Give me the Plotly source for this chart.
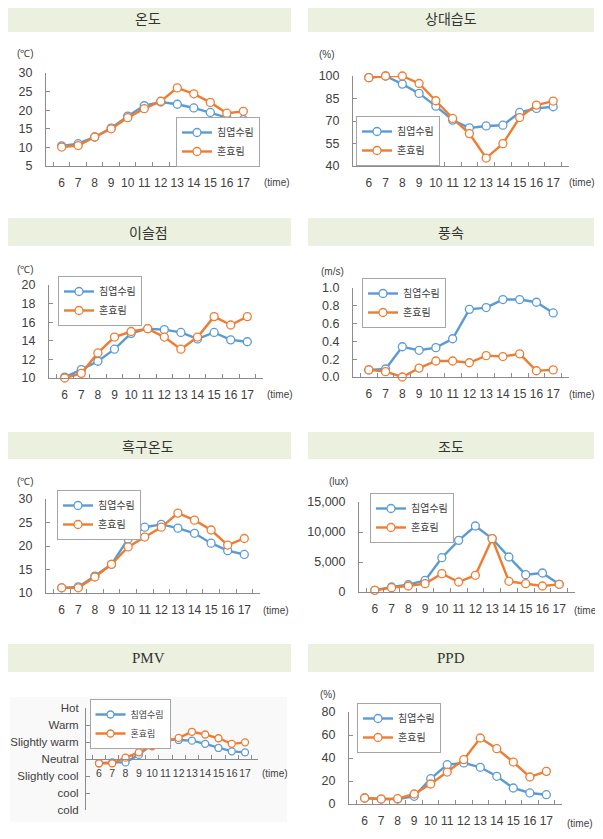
import plotly.graph_objects as go

# page body has an 8px default margin; the figure is placed at (8, 8)
OFF = 8
W, H = 603 - OFF, 839 - OFF

hours = ["6", "7", "8", "9", "10", "11", "12", "13", "14", "15", "16", "17"]
series_names = ["침엽수림", "혼효림"]
titles = ["온도", "상대습도", "이슬점", "풍속", "흑구온도", "조도", "PMV", "PPD"]
units = ["(℃)", "(%)", "(℃)", "(m/s)", "(℃)", "(lux)", "", "(%)"]

temp_conifer = [10.4, 11.0, 12.8, 15.2, 18.4, 21.2, 22.2, 21.6, 20.6, 19.4, 18.0, 17.5]
temp_mixed = [10.1, 10.5, 12.8, 15.0, 18.0, 20.4, 22.4, 26.0, 24.4, 22.1, 19.2, 19.7]

rh_conifer = [98.9, 100.0, 94.6, 88.4, 79.9, 70.6, 65.4, 66.7, 67.2, 75.7, 78.4, 79.5]
rh_mixed = [98.9, 100.0, 100.0, 95.0, 83.5, 71.7, 61.6, 45.3, 54.9, 72.3, 80.6, 83.3]

dew_conifer = [10.1, 10.9, 11.8, 13.1, 14.8, 15.3, 15.2, 14.9, 14.2, 14.9, 14.1, 13.9]
dew_mixed = [10.0, 10.5, 12.7, 14.4, 15.0, 15.3, 14.4, 13.1, 14.4, 16.6, 15.7, 16.6]

wind_conifer = [0.08, 0.09, 0.34, 0.30, 0.33, 0.43, 0.76, 0.78, 0.87, 0.87, 0.84, 0.72]
wind_mixed = [0.08, 0.06, 0.0, 0.10, 0.18, 0.18, 0.16, 0.24, 0.23, 0.26, 0.07, 0.08]

globe_conifer = [11.1, 11.3, 13.6, 16.1, 21.5, 24.0, 24.6, 23.8, 22.7, 20.6, 19.0, 18.2]
globe_mixed = [11.1, 11.1, 13.4, 16.1, 19.8, 21.9, 24.0, 27.0, 25.5, 23.4, 20.2, 21.6]

lux_conifer = [280, 830, 1220, 1940, 5720, 8610, 11000, 8890, 5830, 2890, 3170, 1280]
lux_mixed = [280, 720, 1000, 1390, 3060, 1670, 2780, 8890, 1780, 1390, 1000, 1280]

pmv_conifer = [-0.25, -0.2, -0.2, 0.24, 0.89, 1.18, 1.12, 1.08, 0.89, 0.65, 0.45, 0.39]
pmv_mixed = [-0.25, -0.25, 0.08, 0.39, 0.75, 1.02, 1.24, 1.6, 1.44, 1.22, 0.89, 0.98]
pmv_tickvals = [-3, -2, -1, 0, 1, 2, 3]
pmv_ticktext = ["cold", "cool", "Slightly cool", "Neutral", "Slightly warm", "Warm", "Hot"]

ppd_conifer = [5.2, 4.3, 4.3, 6.7, 22.0, 34.2, 35.7, 31.9, 24.1, 13.9, 9.6, 8.1]
ppd_mixed = [5.2, 4.3, 4.6, 8.7, 17.4, 27.8, 38.6, 57.4, 48.1, 36.5, 23.5, 28.4]

data = [
    (temp_conifer, temp_mixed),
    (rh_conifer, rh_mixed),
    (dew_conifer, dew_mixed),
    (wind_conifer, wind_mixed),
    (globe_conifer, globe_mixed),
    (lux_conifer, lux_mixed),
    (pmv_conifer, pmv_mixed),
    (ppd_conifer, ppd_mixed),
]

BLUE = "#5B9BD5"
ORANGE = "#ED7D31"
colors = [BLUE, ORANGE]
TXT = "#404040"
AXC = "#8c8c8c"
FONT = "Liberation Sans, Arial, sans-serif"
KFONT = "Noto Sans CJK KR, sans-serif"


def fx(x):
    return (x - OFF) / W


def fy(y):
    return 1 - (y - OFF) / H


# layout specs (page pixel positions); leg = legend centre
panels = [
    dict(xd=(46, 259), yd=(73, 166), rng=(5, 30), dtick=5, fmt="", unit=(25, 54), time=(262, 183), leg=(218, 142), box=(5, 291, 4, 32)),
    dict(xd=(353, 569), yd=(76, 166), rng=(40, 100), dtick=15, fmt="", unit=(327, 55), time=(567, 183), leg=(398, 141), box=(308, 594, 4, 32)),
    dict(xd=(49, 263), yd=(285, 378), rng=(10, 20), dtick=2, fmt="", unit=(25, 269), time=(265, 394), leg=(100, 301), box=(5, 291, 218, 246)),
    dict(xd=(353, 569), yd=(288, 377), rng=(0, 1), dtick=0.2, fmt=".1f", unit=(332, 271), time=(567, 394), leg=(404, 303), box=(308, 594, 218, 246)),
    dict(xd=(46, 260), yd=(499, 593), rng=(10, 30), dtick=5, fmt="", unit=(25, 481), time=(261, 610), leg=(99, 515), box=(5, 291, 432, 459)),
    dict(xd=(359, 575), yd=(502, 592), rng=(0, 15000), dtick=5000, fmt=",", unit=(338, 481), time=(572, 610), leg=(412, 518), box=(308, 594, 432, 459)),
    dict(xd=(86, 258), yd=(708, 810), rng=(-3, 3), dtick=1, fmt="", unit=None, time=(260, 773), leg=(130, 724), box=(5, 291, 644, 672)),
    dict(xd=(349, 562), yd=(712, 804), rng=(0, 80), dtick=20, fmt="", unit=(328, 694), time=(565, 823), leg=(399, 728), box=(308, 594, 644, 672)),
]

fig = go.Figure()
shapes = []
annotations = []
layout = dict(
    width=W, height=H, autosize=False,
    margin=dict(l=0, r=0, t=0, b=0, pad=0, autoexpand=False),
    paper_bgcolor="white", plot_bgcolor="rgba(0,0,0,0)",
    font=dict(family=FONT, color=TXT),
)

# faint background for PMV chart area
shapes.append(dict(type="rect", xref="paper", yref="paper", x0=fx(10), x1=fx(287), y0=fy(822), y1=fy(697),
                   fillcolor="#f9f9f9", line=dict(width=0), layer="below"))

for i, (p, (s1, s2)) in enumerate(zip(panels, data)):
    n = i + 1
    xa = "x" if n == 1 else f"x{n}"
    ya = "y" if n == 1 else f"y{n}"
    lg = "legend" if n == 1 else f"legend{n}"
    is_pmv = titles[i] == "PMV"
    for k, vals in enumerate((s1, s2)):
        fig.add_trace(go.Scatter(
            x=hours, y=vals, name=series_names[k], mode="lines+markers",
            line=dict(color=colors[k], width=2.4),
            marker=dict(symbol="circle", size=8 if not is_pmv else 7, color="white",
                        line=dict(color=colors[k], width=1.3)),
            xaxis=xa, yaxis=ya, legend=lg, showlegend=True, cliponaxis=False,
        ))
    y0d, y1d = fy(p["yd"][1]), fy(p["yd"][0])
    xaxis = dict(
        domain=[fx(p["xd"][0]), fx(p["xd"][1])], type="category", tickson="boundaries",
        tickmode="linear", tick0=0, dtick=1, tickangle=0,
        showgrid=False, zeroline=False, showline=True, linecolor=AXC, linewidth=1,
        ticks="inside", ticklen=4, tickcolor=AXC,
        tickfont=dict(size=12 if not is_pmv else 10.5, color=TXT, family=FONT),
        ticklabelstandoff=6, fixedrange=True, automargin=False,
    )
    if is_pmv:
        xaxis.update(anchor="free", position=(y0d + y1d) / 2, ticklabelstandoff=4)
    else:
        xaxis.update(anchor=ya)
    yaxis = dict(
        domain=[y0d, y1d], range=list(p["rng"]), showgrid=False, zeroline=False,
        showline=True, linecolor=AXC, linewidth=1, ticks="inside", ticklen=4, tickcolor=AXC,
        tickfont=dict(size=12.5, color=TXT, family=FONT), anchor=xa, fixedrange=True, automargin=False,
    )
    if is_pmv:
        yaxis.update(tickmode="array", tickvals=pmv_tickvals, ticktext=pmv_ticktext, ticklabelstandoff=4,
                     tickfont=dict(size=11.5, color=TXT, family=FONT))
    else:
        yaxis.update(tickmode="linear", tick0=p["rng"][0], dtick=p["dtick"], tickformat=p["fmt"], ticklabelstandoff=10)
    layout["xaxis" if n == 1 else f"xaxis{n}"] = xaxis
    layout["yaxis" if n == 1 else f"yaxis{n}"] = yaxis

    layout[lg] = dict(
        x=fx(p["leg"][0]), y=fy(p["leg"][1]), xanchor="center", yanchor="middle",
        bgcolor="white", bordercolor="#a6a6a6", borderwidth=1,
        font=dict(size=10 if not is_pmv else 9, color=TXT, family=KFONT),
        itemwidth=30, tracegroupgap=0, traceorder="normal",
    )

    bx0, bx1, by0, by1 = p["box"]
    shapes.append(dict(type="rect", xref="paper", yref="paper", x0=fx(bx0), x1=fx(bx1), y0=fy(by1), y1=fy(by0),
                       fillcolor="#EBF1DE", line=dict(width=0), layer="below"))
    tfont = dict(size=14, color="#333333", family=KFONT)
    if titles[i] in ("PMV", "PPD"):
        tfont = dict(size=15, color="#333333", family="Liberation Serif, DejaVu Serif, serif")
    annotations.append(dict(text=titles[i], xref="paper", yref="paper", x=fx((bx0 + bx1) / 2), y=fy((by0 + by1) / 2),
                            xanchor="center", yanchor="middle", showarrow=False, font=tfont))
    if p["unit"]:
        annotations.append(dict(text=units[i], xref="paper", yref="paper", x=fx(p["unit"][0]), y=fy(p["unit"][1]),
                                xanchor="center", yanchor="middle", showarrow=False,
                                font=dict(size=10, color=TXT, family=FONT)))
    annotations.append(dict(text="(time)", xref="paper", yref="paper", x=fx(p["time"][0]), y=fy(p["time"][1]),
                            xanchor="left", yanchor="middle", showarrow=False,
                            font=dict(size=10, color=TXT, family=FONT)))

layout["shapes"] = shapes
layout["annotations"] = annotations
fig.update_layout(**layout)

fig.write_html("out.html")
